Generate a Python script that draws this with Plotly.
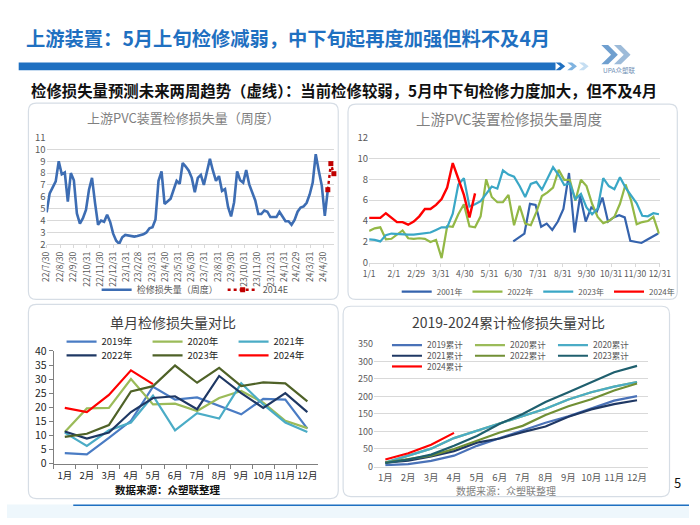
import plotly.graph_objects as go
import pandas as pd

W, H = 700, 525
FONT = "Noto Sans CJK SC"


def px(x):
    return x / W


def py(y):
    return 1 - y / H


def P(x, y):
    return f"{x / W:.5f},{1 - y / H:.5f}"


def rrect(x0, y0, x1, y1, r):
    return (f"M{P(x0 + r, y0)} L{P(x1 - r, y0)} Q{P(x1, y0)} {P(x1, y0 + r)} "
            f"L{P(x1, y1 - r)} Q{P(x1, y1)} {P(x1 - r, y1)} L{P(x0 + r, y1)} "
            f"Q{P(x0, y1)} {P(x0, y1 - r)} L{P(x0, y0 + r)} Q{P(x0, y0)} {P(x0 + r, y0)} Z")


def chevron(x, y0, y1, w, t):
    ym = (y0 + y1) / 2
    return (f"M{P(x, y0)} L{P(x + t, y0)} L{P(x + t + w, ym)} L{P(x + t, y1)} "
            f"L{P(x, y1)} L{P(x + w, ym)} Z")


# ---------------- data ----------------
# Panel 1: weekly loss (22/7/30 .. 24/5)
p1_start = "2022-07-30"
p1_weekly = [4.7, 6.3, 6.8, 7.3, 9.0, 7.9, 8.05, 5.6, 8.0, 7.4, 4.6, 3.75, 4.2, 4.9, 6.6, 7.6, 5.5,
             3.65, 4.0, 3.9, 4.5, 3.9, 2.9, 2.3, 2.05,
             2.6, 2.8, 2.75, 2.7, 2.65, 2.7, 2.75, 2.85, 3.0, 3.35, 3.45, 4.1, 7.35,
             8.15, 5.4, 5.65, 5.85, 6.6, 7.35, 7.1, 8.85, 8.55, 8.2, 7.6, 6.4, 7.6, 7.85, 7.0,
             8.2, 9.2, 8.2, 7.35, 7.75, 6.5, 6.65, 5.15, 4.35, 5.55, 8.15, 7.4, 7.2, 8.25, 7.05,
             6.4, 5.7, 4.55, 4.55, 4.85, 4.75, 4.3, 4.3, 4.3, 4.75, 4.35, 3.95, 3.95, 3.65, 4.05,
             4.75, 5.1, 5.2, 5.5, 6.2, 7.2, 9.6, 8.2, 6.95, 4.4, 6.6]
p1_forecast = [6.6, 8.8, 7.95]
p1_tick_dates = ["2022-07-30", "2022-08-30", "2022-09-30", "2022-10-31", "2022-11-30", "2022-12-31",
                 "2023-01-31", "2023-02-28", "2023-03-31", "2023-04-30", "2023-05-31", "2023-06-30",
                 "2023-07-31", "2023-08-31", "2023-09-30", "2023-10-31", "2023-11-30", "2023-12-31",
                 "2024-01-31", "2024-02-29", "2024-03-31", "2024-04-30"]
p1_tick_text = ["22/7/30", "22/8/30", "22/9/30", "22/10/31", "22/11/30", "22/12/31",
                "23/1/31", "23/2/28", "23/3/31", "23/4/30", "23/5/31", "23/6/30",
                "23/7/31", "23/8/31", "23/9/30", "23/10/31", "23/11/30", "23/12/31",
                "24/1/31", "24/2/29", "24/3/31", "24/4/30"]

# Panel 2: seasonal weekly comparison
p2_y2001_start = "2024-06-30"
p2_y2001 = [2.05, 2.4, 2.8, 5.65, 5.55, 3.45, 3.75, 3.15, 3.95, 5.15, 8.6, 2.9, 6.4, 3.95, 5.3,
            4.9, 6.25, 3.95, 4.35, 4.55, 4.35, 2.1, 2.0, 1.9, 2.2, 2.5, 2.8]
p2_y2022 = [3.05, 3.3, 3.4, 2.25, 2.3, 2.7, 3.1, 2.35, 2.3, 2.35, 2.3, 2.0, 2.2, 0.45, 3.5, 3.45,
            4.65, 5.6, 3.5, 3.4, 4.45, 8.0, 6.3, 5.8, 5.8, 6.5, 3.6, 5.45, 3.75, 3.6, 4.85, 6.4,
            6.75, 7.2, 8.9, 7.95, 7.95, 5.95, 7.95, 7.35, 5.65, 4.4, 3.8, 4.0, 4.4, 5.65, 7.5,
            5.95, 3.7, 3.9, 4.0, 4.4, 2.8]
p2_y2023 = [2.25, 2.2, 2.05, 2.65, 2.8, 2.75, 2.7, 2.7, 2.7, 2.75, 2.85, 2.9, 3.15, 3.4, 3.4, 4.7,
            7.5, 8.1, 5.4, 5.6, 5.9, 6.6, 7.3, 7.1, 8.85, 8.45, 8.25, 7.35, 6.3, 7.55, 7.75, 7.0,
            8.0, 9.15, 8.4, 7.45, 7.6, 6.1, 6.6, 5.3, 4.65, 5.2, 8.1, 7.35, 7.05, 8.2, 7.2, 6.4,
            5.7, 4.5, 4.45, 4.75, 4.65]
p2_y2024 = [4.3, 4.3, 4.3, 4.75, 4.3, 3.9, 3.9, 3.65, 3.95, 4.45, 5.15, 5.15, 5.55, 6.1, 7.2,
            9.55, 8.05, 6.5, 4.35, 6.65]
p2_tick_dates = ["2024-01-01", "2024-02-01", "2024-02-29", "2024-03-31", "2024-04-30", "2024-05-31",
                 "2024-06-30", "2024-07-31", "2024-08-31", "2024-09-30", "2024-10-31", "2024-11-30",
                 "2024-12-31"]
p2_tick_text = ["1/1", "2/1", "2/29", "3/31", "4/30", "5/31", "6/30", "7/31", "8/31", "9/30",
                "10/31", "11/30", "12/31"]

# Panel 3: monthly loss
months = ["1月", "2月", "3月", "4月", "5月", "6月", "7月", "8月", "9月", "10月", "11月", "12月"]
m2019 = [3.7, 3.3, 9.1, 15.2, 27.3, 22.7, 23.5, 20.4, 17.5, 23.0, 22.7, 12.4]
m2020 = [11.2, 19.6, 19.8, 30.0, 21.0, 21.3, 18.7, 23.3, 25.8, 21.6, 15.2, 12.6]
m2021 = [11.0, 6.3, 11.8, 14.6, 24.1, 11.8, 17.9, 16.0, 28.5, 21.0, 14.6, 11.2]
m2022 = [11.4, 8.9, 11.0, 18.3, 23.3, 23.9, 19.3, 31.1, 25.0, 19.8, 25.0, 18.3]
m2023 = [9.5, 10.6, 13.7, 25.6, 27.5, 34.8, 28.7, 34.0, 27.5, 28.8, 28.5, 22.1]
m2024 = [19.8, 18.3, 24.4, 33.1, 28.2]

# Panel 4: cumulative loss
c2019 = [4, 7, 16, 31, 59, 81, 105, 125, 143, 166, 188, 201]
c2020a = [11, 31, 51, 81, 102, 123, 142, 165, 191, 212, 228, 241]
c2020b = [11, 31, 51, 81, 102, 123, 142, 165, 191, 212, 228, 241]
c2021 = [11, 17, 29, 44, 68, 80, 98, 114, 142, 163, 178, 189]
c2022 = [11, 20, 31, 50, 73, 97, 116, 147, 172, 192, 217, 237]
c2023 = [10, 20, 34, 59, 87, 122, 150, 184, 212, 241, 269, 287]
c2024 = [20, 38, 62, 96]

# ---------------- figure ----------------
fig = go.Figure()

p1_dates = pd.date_range(p1_start, periods=len(p1_weekly), freq="7D")
p1_fc_dates = pd.date_range(p1_dates[-1], periods=len(p1_forecast), freq="7D")
fig.add_trace(go.Scatter(x=p1_dates, y=p1_weekly, mode="lines", name="检修损失量（周度）",
                         line=dict(color="#3d6db3", width=2.6), xaxis="x", yaxis="y",
                         legend="legend"))
fig.add_trace(go.Scatter(x=p1_fc_dates, y=p1_forecast, mode="lines+markers", name="2014E",
                         line=dict(color="#c00000", width=2.4, dash="dot"),
                         marker=dict(color="#c00000", size=5, symbol="square"),
                         xaxis="x", yaxis="y", legend="legend", cliponaxis=False))

wk = lambda start, n: pd.date_range(start, periods=n, freq="7D")
fig.add_trace(go.Scatter(x=wk(p2_y2001_start, len(p2_y2001)), y=p2_y2001, mode="lines", name="2001年",
                         line=dict(color="#3563ad", width=2.2), xaxis="x2", yaxis="y2", legend="legend2"))
fig.add_trace(go.Scatter(x=wk("2024-01-01", len(p2_y2022)), y=p2_y2022, mode="lines", name="2022年",
                         line=dict(color="#93b846", width=2.2), xaxis="x2", yaxis="y2", legend="legend2"))
fig.add_trace(go.Scatter(x=wk("2024-01-01", len(p2_y2023)), y=p2_y2023, mode="lines", name="2023年",
                         line=dict(color="#3aa7c6", width=2.2), xaxis="x2", yaxis="y2", legend="legend2"))
fig.add_trace(go.Scatter(x=wk("2024-01-01", len(p2_y2024)), y=p2_y2024, mode="lines", name="2024年",
                         line=dict(color="#ff0000", width=2.4), xaxis="x2", yaxis="y2", legend="legend2"))

p3 = [("2019年", m2019, "#4a7cc4", "legend3"), ("2020年", m2020, "#9bbb59", "legend3"),
      ("2021年", m2021, "#4bacc6", "legend3"), ("2022年", m2022, "#1f3864", "legend5"),
      ("2023年", m2023, "#4f6228", "legend5"), ("2024年", m2024, "#ff0000", "legend5")]
for name, vals, col, lg in p3:
    fig.add_trace(go.Scatter(x=months[:len(vals)], y=vals, mode="lines", name=name,
                             line=dict(color=col, width=2.2), xaxis="x3", yaxis="y3", legend=lg))

p4 = [("2019累计", c2019, "#4a72b8", "legend4"), ("2020累计", c2020a, "#9bbb59", "legend4"),
      ("2020累计", c2020b, "#4bacc6", "legend4"), ("2021累计", c2021, "#1f3864", "legend6"),
      ("2022累计", c2022, "#718f35", "legend6"), ("2023累计", c2023, "#1f5f6e", "legend6"),
      ("2024累计", c2024, "#ff0000", "legend7")]
for name, vals, col, lg in p4:
    fig.add_trace(go.Scatter(x=months[:len(vals)], y=vals, mode="lines", name=name,
                             line=dict(color=col, width=2.2), xaxis="x4", yaxis="y4", legend=lg))

grid = "#d9d9d9"
tickc = "#595959"

fig.update_layout(
    width=W, height=H, margin=dict(l=0, r=0, t=0, b=0),
    paper_bgcolor="white", plot_bgcolor="rgba(0,0,0,0)",
    font=dict(family=FONT, color=tickc, size=10),
    xaxis=dict(domain=[px(40.7), px(335.5)], type="date", range=["2022-07-30", "2024-05-25"],
               tickvals=p1_tick_dates, ticktext=p1_tick_text, tickangle=-90,
               tickfont=dict(size=8.5, color=tickc), showgrid=False, showline=True,
               linecolor=grid, ticks="outside", ticklen=3, tickcolor=grid, anchor="y"),
    yaxis=dict(domain=[py(243.3), py(133.3)], range=[2, 11], dtick=1, showgrid=True,
               gridcolor=grid, zeroline=False, tickfont=dict(size=9.5, color=tickc), anchor="x"),
    xaxis2=dict(domain=[px(371.7), px(670)], type="date", range=["2024-01-01", "2024-12-31"],
                tickvals=p2_tick_dates, ticktext=p2_tick_text, tickangle=0,
                tickfont=dict(size=8.5, color=tickc), showgrid=False, showline=True,
                linecolor=grid, ticks="outside", ticklen=3, tickcolor=grid, anchor="y2"),
    yaxis2=dict(domain=[py(262.3), py(133.3)], range=[0, 12], dtick=2, showgrid=True,
                gridcolor=grid, zeroline=False, tickfont=dict(size=9.5, color=tickc), anchor="x2"),
    xaxis3=dict(domain=[px(48), px(319.6)], type="category", categoryorder="array",
                categoryarray=months, range=[-0.5, 11.5], tickfont=dict(size=9.5, color="#262626"),
                tickangle=0, showgrid=False, showline=True, linecolor="#7f7f7f", ticks="outside",
                ticklen=4, tickcolor="#7f7f7f", tickson="boundaries", ticklabelstandoff=3,
                anchor="y3"),
    yaxis3=dict(domain=[py(469), py(353)], range=[0, 40], dtick=5, showgrid=False, zeroline=False,
                showline=True, linecolor="#7f7f7f", ticks="outside", ticklen=4, tickcolor="#7f7f7f",
                tickfont=dict(size=10.5, color="#262626"), anchor="x3"),
    xaxis4=dict(domain=[px(376.6), px(658.4)], type="category", categoryorder="array",
                categoryarray=months, range=[-0.5, 11.5], tickfont=dict(size=9.5, color=tickc),
                tickangle=0, showgrid=False, showline=True, linecolor=grid, ticks="",
                ticklabelstandoff=2, anchor="y4"),
    yaxis4=dict(domain=[py(472), py(345.7)], range=[0, 350], dtick=50, showgrid=True,
                gridcolor=grid, zeroline=False, tickfont=dict(size=9, color=tickc), anchor="x4"),
)

leg_base = dict(orientation="h", xanchor="left", yanchor="middle", bgcolor="rgba(0,0,0,0)",
                itemclick=False, itemdoubleclick=False, tracegroupgap=0)
fig.update_layout(
    legend=dict(leg_base, x=px(92), y=py(290), font=dict(size=9, color=tickc)),
    legend2=dict(leg_base, x=px(400), y=py(292), font=dict(size=8, color=tickc)),
    legend3=dict(leg_base, x=px(56), y=py(343.5), font=dict(size=9.5, color="#262626"), entrywidth=41),
    legend5=dict(leg_base, x=px(56), y=py(357.5), font=dict(size=9.5, color="#262626"), entrywidth=41),
    legend4=dict(leg_base, x=px(390), y=py(347), font=dict(size=8.5, color=tickc), entrywidth=38),
    legend6=dict(leg_base, x=px(390), y=py(358), font=dict(size=8.5, color=tickc), entrywidth=38),
    legend7=dict(leg_base, x=px(390), y=py(369), font=dict(size=8.5, color=tickc), entrywidth=38),
)

shapes = []
# panel boxes
for (x0, y0, x1, y1) in [(22, 98, 340, 300), (350, 99, 688, 300), (22, 305, 340, 505), (345, 307, 680, 503)]:
    shapes.append(dict(type="path", xref="paper", yref="paper", path=rrect(x0, y0, x1, y1, 8),
                       line=dict(color="#d6dde5", width=1.2), fillcolor="rgba(0,0,0,0)", layer="below"))
# title bar
shapes.append(dict(type="rect", xref="paper", yref="paper", x0=px(12), x1=px(563), y0=py(64), y1=py(56),
                   fillcolor="#1f70c1", line=dict(width=0), layer="below"))
for i, col in enumerate(["#1f70c1", "#7fb3e0", "#c5def2"]):
    shapes.append(dict(type="path", xref="paper", yref="paper", path=chevron(563 + i * 12, 56, 64, 5, 5),
                       fillcolor=col, line=dict(width=0)))
# logo
for i, col in enumerate(["#6f9fcf", "#9dbbd9"]):
    shapes.append(dict(type="path", xref="paper", yref="paper", path=chevron(610 + i * 13, 38, 58, 10, 7),
                       fillcolor=col, line=dict(width=0)))
# bottom strip
shapes.append(dict(type="rect", xref="paper", yref="paper", x0=0, x1=1, y0=0, y1=py(511),
                   fillcolor="#eef7fc", line=dict(width=0), layer="below"))
shapes.append(dict(type="line", xref="paper", yref="paper", x0=px(68), x1=1, y0=py(512), y1=py(512),
                   line=dict(color="#1f70c1", width=1.5)))
fig.update_layout(shapes=shapes)

ann = []


def T(text, x, y, size, color, xanchor="center", bold=False):
    ann.append(dict(text=text, x=px(x), y=py(y), xref="paper", yref="paper", xanchor=xanchor,
                    yanchor="middle", showarrow=False,
                    font=dict(family=FONT, size=size, color=color, weight="bold" if bold else "normal")))


T("上游装置：5月上旬检修减弱，中下旬起再度加强但料不及4月", 17, 31, 19.3, "#1f70c1", "left", True)
T("检修损失量预测未来两周趋势（虚线）：当前检修较弱，5月中下旬检修力度加大，但不及4月", 23, 84, 15.4, "#111111", "left", True)
T("UPA众塑联", 628, 64, 6.5, "#6f8fb5")
T("上游PVC装置检修损失量（周度）", 181, 113, 13, "#7f7f7f")
T("上游PVC装置检修损失量周度", 515, 114, 14.5, "#7f7f7f")
T("单月检修损失量对比", 170, 323, 14, "#404040")
T("2019-2024累计检修损失量对比", 515, 323, 14, "#404040")
T("数据来源：众塑联整理", 165, 496, 10.5, "#111111", bold=True)
T("数据来源：众塑联整理", 512, 496.5, 10, "#7f7f7f")
T("5", 688, 488, 13, "#111111")
fig.update_layout(annotations=ann)

fig.write_html("out.html", config={"displayModeBar": False, "staticPlot": True},
               post_script="document.body.style.margin='0';document.body.style.padding='0';")
